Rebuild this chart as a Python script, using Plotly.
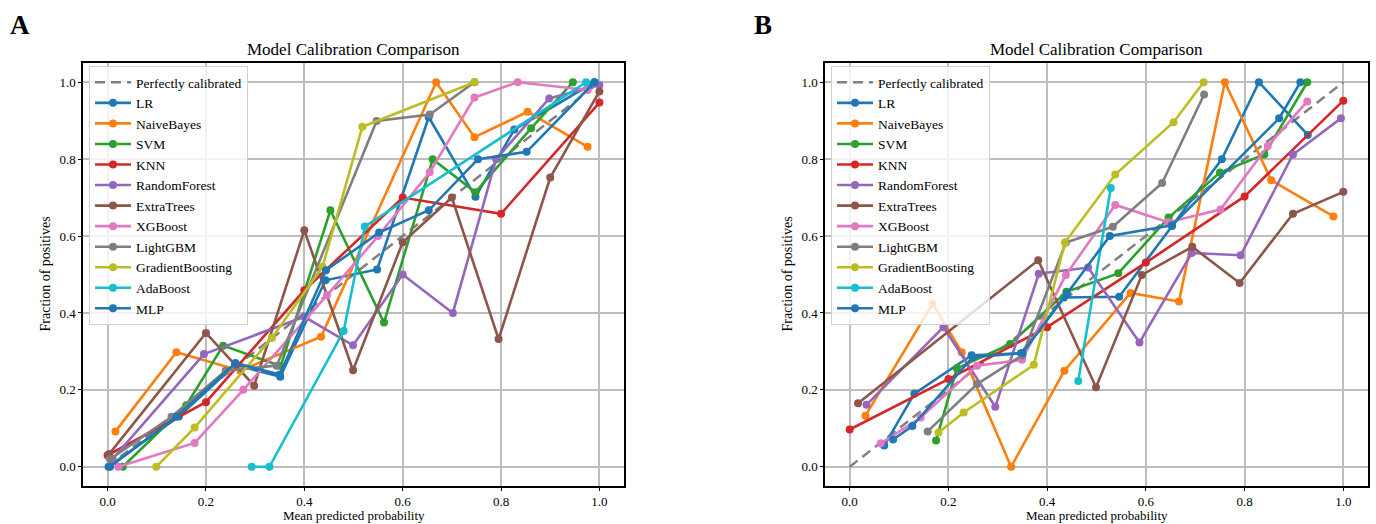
import plotly.graph_objects as go

# ---- Model names and line colours (tab10 cycle) ----
models = ["LR", "NaiveBayes", "SVM", "KNN", "RandomForest", "ExtraTrees",
          "XGBoost", "LightGBM", "GradientBoosting", "AdaBoost", "MLP"]
colors = ["#1f77b4", "#ff7f0e", "#2ca02c", "#d62728", "#9467bd", "#8c564b",
          "#e377c2", "#7f7f7f", "#bcbd22", "#17becf", "#1f77b4"]

ticks = [0.0, 0.2, 0.4, 0.6, 0.8, 1.0]
tick_labels = ["0.0", "0.2", "0.4", "0.6", "0.8", "1.0"]

# ---- Panel A: mean predicted probability (x) / fraction of positives (y) ----
lr_a_x = [0.002, 0.145, 0.259, 0.351, 0.443, 0.548, 0.653, 0.748, 0.827, 0.99]
lr_a_y = [0.0, 0.131, 0.265, 0.234, 0.485, 0.513, 0.909, 0.702, 0.877, 1.0]
nb_a_x = [0.016, 0.14, 0.27, 0.434, 0.668, 0.746, 0.854, 0.976]
nb_a_y = [0.092, 0.298, 0.25, 0.338, 1.0, 0.857, 0.923, 0.832]
svm_a_x = [0.031, 0.16, 0.235, 0.352, 0.453, 0.562, 0.661, 0.748, 0.861, 0.946]
svm_a_y = [0.0, 0.16, 0.315, 0.262, 0.667, 0.375, 0.80, 0.714, 0.88, 1.0]
knn_a_x = [0.0, 0.2, 0.4, 0.6, 0.8, 1.0]
knn_a_y = [0.03, 0.168, 0.459, 0.70, 0.658, 0.947]
rf_a_x = [0.01, 0.196, 0.40, 0.499, 0.6, 0.702, 0.79, 0.898, 1.0]
rf_a_y = [0.02, 0.293, 0.39, 0.316, 0.5, 0.40, 0.80, 0.958, 0.993]
et_a_x = [0.003, 0.2, 0.298, 0.4, 0.499, 0.6, 0.7, 0.795, 0.9, 1.0]
et_a_y = [0.033, 0.348, 0.211, 0.615, 0.251, 0.584, 0.70, 0.332, 0.752, 0.976]
xgb_a_x = [0.022, 0.177, 0.276, 0.446, 0.55, 0.655, 0.746, 0.834, 0.976]
xgb_a_y = [0.0, 0.062, 0.2, 0.446, 0.60, 0.766, 0.96, 1.0, 0.98]
lgbm_a_x = [0.005, 0.13, 0.24, 0.344, 0.547, 0.655, 0.746]
lgbm_a_y = [0.02, 0.13, 0.25, 0.263, 0.899, 0.916, 1.0]
gb_a_x = [0.099, 0.177, 0.334, 0.437, 0.518, 0.746]
gb_a_y = [0.0, 0.102, 0.335, 0.52, 0.884, 1.0]
ada_a_x = [0.293, 0.329, 0.48, 0.523, 0.973]
ada_a_y = [0.0, 0.0, 0.353, 0.625, 1.0]
mlp_a_x = [0.005, 0.14, 0.26, 0.35, 0.444, 0.552, 0.653, 0.753, 0.852, 0.99]
mlp_a_y = [0.0, 0.13, 0.27, 0.24, 0.511, 0.609, 0.667, 0.80, 0.819, 1.0]

# ---- Panel B ----
lr_b_x = [0.07, 0.131, 0.247, 0.347, 0.434, 0.546, 0.653, 0.754, 0.829, 0.928]
lr_b_y = [0.055, 0.19, 0.29, 0.295, 0.44, 0.442, 0.626, 0.80, 1.0, 0.863]
nb_b_x = [0.032, 0.168, 0.227, 0.327, 0.435, 0.569, 0.667, 0.76, 0.854, 0.98]
nb_b_y = [0.133, 0.424, 0.298, 0.0, 0.25, 0.452, 0.43, 1.0, 0.745, 0.651]
svm_b_x = [0.175, 0.217, 0.325, 0.439, 0.544, 0.646, 0.75, 0.84, 0.927]
svm_b_y = [0.068, 0.256, 0.319, 0.455, 0.503, 0.648, 0.765, 0.812, 1.0]
knn_b_x = [0.0, 0.2, 0.4, 0.6, 0.8, 1.0]
knn_b_y = [0.097, 0.228, 0.363, 0.531, 0.703, 0.952]
rf_b_x = [0.034, 0.19, 0.295, 0.383, 0.483, 0.587, 0.693, 0.792, 0.898, 0.995]
rf_b_y = [0.161, 0.363, 0.156, 0.502, 0.518, 0.323, 0.556, 0.55, 0.812, 0.906]
et_b_x = [0.017, 0.382, 0.499, 0.592, 0.694, 0.79, 0.898, 1.0]
et_b_y = [0.165, 0.537, 0.207, 0.499, 0.572, 0.478, 0.658, 0.715]
xgb_b_x = [0.063, 0.144, 0.258, 0.349, 0.438, 0.538, 0.645, 0.751, 0.847, 0.927]
xgb_b_y = [0.061, 0.128, 0.263, 0.278, 0.499, 0.681, 0.636, 0.669, 0.834, 0.95]
lgbm_b_x = [0.158, 0.258, 0.35, 0.438, 0.533, 0.633, 0.718]
lgbm_b_y = [0.092, 0.215, 0.29, 0.583, 0.624, 0.738, 0.968]
gb_b_x = [0.18, 0.231, 0.373, 0.436, 0.538, 0.656, 0.717]
gb_b_y = [0.089, 0.141, 0.265, 0.583, 0.76, 0.896, 1.0]
ada_b_x = [0.463, 0.529]
ada_b_y = [0.223, 0.725]
mlp_b_x = [0.088, 0.127, 0.249, 0.35, 0.44, 0.527, 0.653, 0.87, 0.913]
mlp_b_y = [0.071, 0.106, 0.285, 0.296, 0.45, 0.60, 0.628, 0.906, 1.0]

panel_a = [(lr_a_x, lr_a_y), (nb_a_x, nb_a_y), (svm_a_x, svm_a_y), (knn_a_x, knn_a_y),
           (rf_a_x, rf_a_y), (et_a_x, et_a_y), (xgb_a_x, xgb_a_y), (lgbm_a_x, lgbm_a_y),
           (gb_a_x, gb_a_y), (ada_a_x, ada_a_y), (mlp_a_x, mlp_a_y)]
panel_b = [(lr_b_x, lr_b_y), (nb_b_x, nb_b_y), (svm_b_x, svm_b_y), (knn_b_x, knn_b_y),
           (rf_b_x, rf_b_y), (et_b_x, et_b_y), (xgb_b_x, xgb_b_y), (lgbm_b_x, lgbm_b_y),
           (gb_b_x, gb_b_y), (ada_b_x, ada_b_y), (mlp_b_x, mlp_b_y)]

W, H = 1376, 524
FONT = "Liberation Serif, Times New Roman, serif"

fig = go.Figure()


def add_panel(curves, xref, yref, legend_id):
    fig.add_trace(go.Scatter(
        x=[0, 1], y=[0, 1], mode="lines", name="Perfectly calibrated",
        line=dict(color="#808080", width=2.5, dash="10px,6px"),
        xaxis=xref, yaxis=yref, legend=legend_id))
    for name, color, (xs, ys) in zip(models, colors, curves):
        fig.add_trace(go.Scatter(
            x=xs, y=ys, mode="lines+markers", name=name,
            line=dict(color=color, width=2.6),
            marker=dict(color=color, size=8),
            xaxis=xref, yaxis=yref, legend=legend_id))


add_panel(panel_a, "x", "y", "legend")
add_panel(panel_b, "x2", "y2", "legend2")

# plot-area pixel boxes
ax_a = (83, 624)
ax_b = (825, 1368)
top_px, bot_px = 63, 486
ydom = [1 - bot_px / H, 1 - top_px / H]

axis_common = dict(
    range=[-0.05, 1.05], tickvals=ticks, ticktext=tick_labels,
    showgrid=True, gridcolor="#bdbdbd", gridwidth=1.5,
    showline=True, linecolor="black", linewidth=1.5, mirror=True,
    ticks="outside", ticklen=3, tickwidth=1.2, tickcolor="black",
    zeroline=False, tickfont=dict(family=FONT, size=13, color="black"),
)

legend_common = dict(
    xanchor="left", yanchor="top",
    bgcolor="rgba(255,255,255,0.8)", bordercolor="#d0d0d0", borderwidth=1,
    font=dict(family=FONT, size=13.5, color="black"), itemwidth=36,
)

fig.update_layout(
    width=W, height=H,
    margin=dict(l=0, r=0, t=0, b=0),
    paper_bgcolor="white", plot_bgcolor="white",
    font=dict(family=FONT, color="black"),
    xaxis=dict(domain=[ax_a[0] / W, ax_a[1] / W], anchor="y", **axis_common),
    yaxis=dict(domain=ydom, anchor="x", **axis_common),
    xaxis2=dict(domain=[ax_b[0] / W, ax_b[1] / W], anchor="y2", **axis_common),
    yaxis2=dict(domain=ydom, anchor="x2", **axis_common),
    legend=dict(x=89 / W, y=1 - 66 / H, **legend_common),
    legend2=dict(x=831 / W, y=1 - 66 / H, **legend_common),
    showlegend=True,
)

annotations = []
for (l, r), letter, lx in [(ax_a, "A", 8), (ax_b, "B", 752)]:
    cx = (l + r) / 2 / W
    annotations.append(dict(text="Model Calibration Comparison", x=cx, y=1 - 50 / H,
                            xref="paper", yref="paper", showarrow=False,
                            font=dict(family=FONT, size=17, color="black"),
                            xanchor="center", yanchor="middle"))
    annotations.append(dict(text="Mean predicted probability", x=cx, y=0,
                            xref="paper", yref="paper", showarrow=False,
                            font=dict(family=FONT, size=13, color="black"),
                            xanchor="center", yanchor="bottom", yshift=-1))
    annotations.append(dict(text="Fraction of positives", x=(l - 38) / W,
                            y=1 - (top_px + bot_px) / 2 / H,
                            xref="paper", yref="paper", showarrow=False, textangle=-90,
                            font=dict(family=FONT, size=14, color="black"),
                            xanchor="center", yanchor="middle"))
    annotations.append(dict(text="<b>" + letter + "</b>", x=lx / W, y=1 - 25 / H,
                            xref="paper", yref="paper", showarrow=False,
                            font=dict(family=FONT, size=27, color="black"),
                            xanchor="left", yanchor="middle"))
fig.update_layout(annotations=annotations)

fig.write_html("out.html")
